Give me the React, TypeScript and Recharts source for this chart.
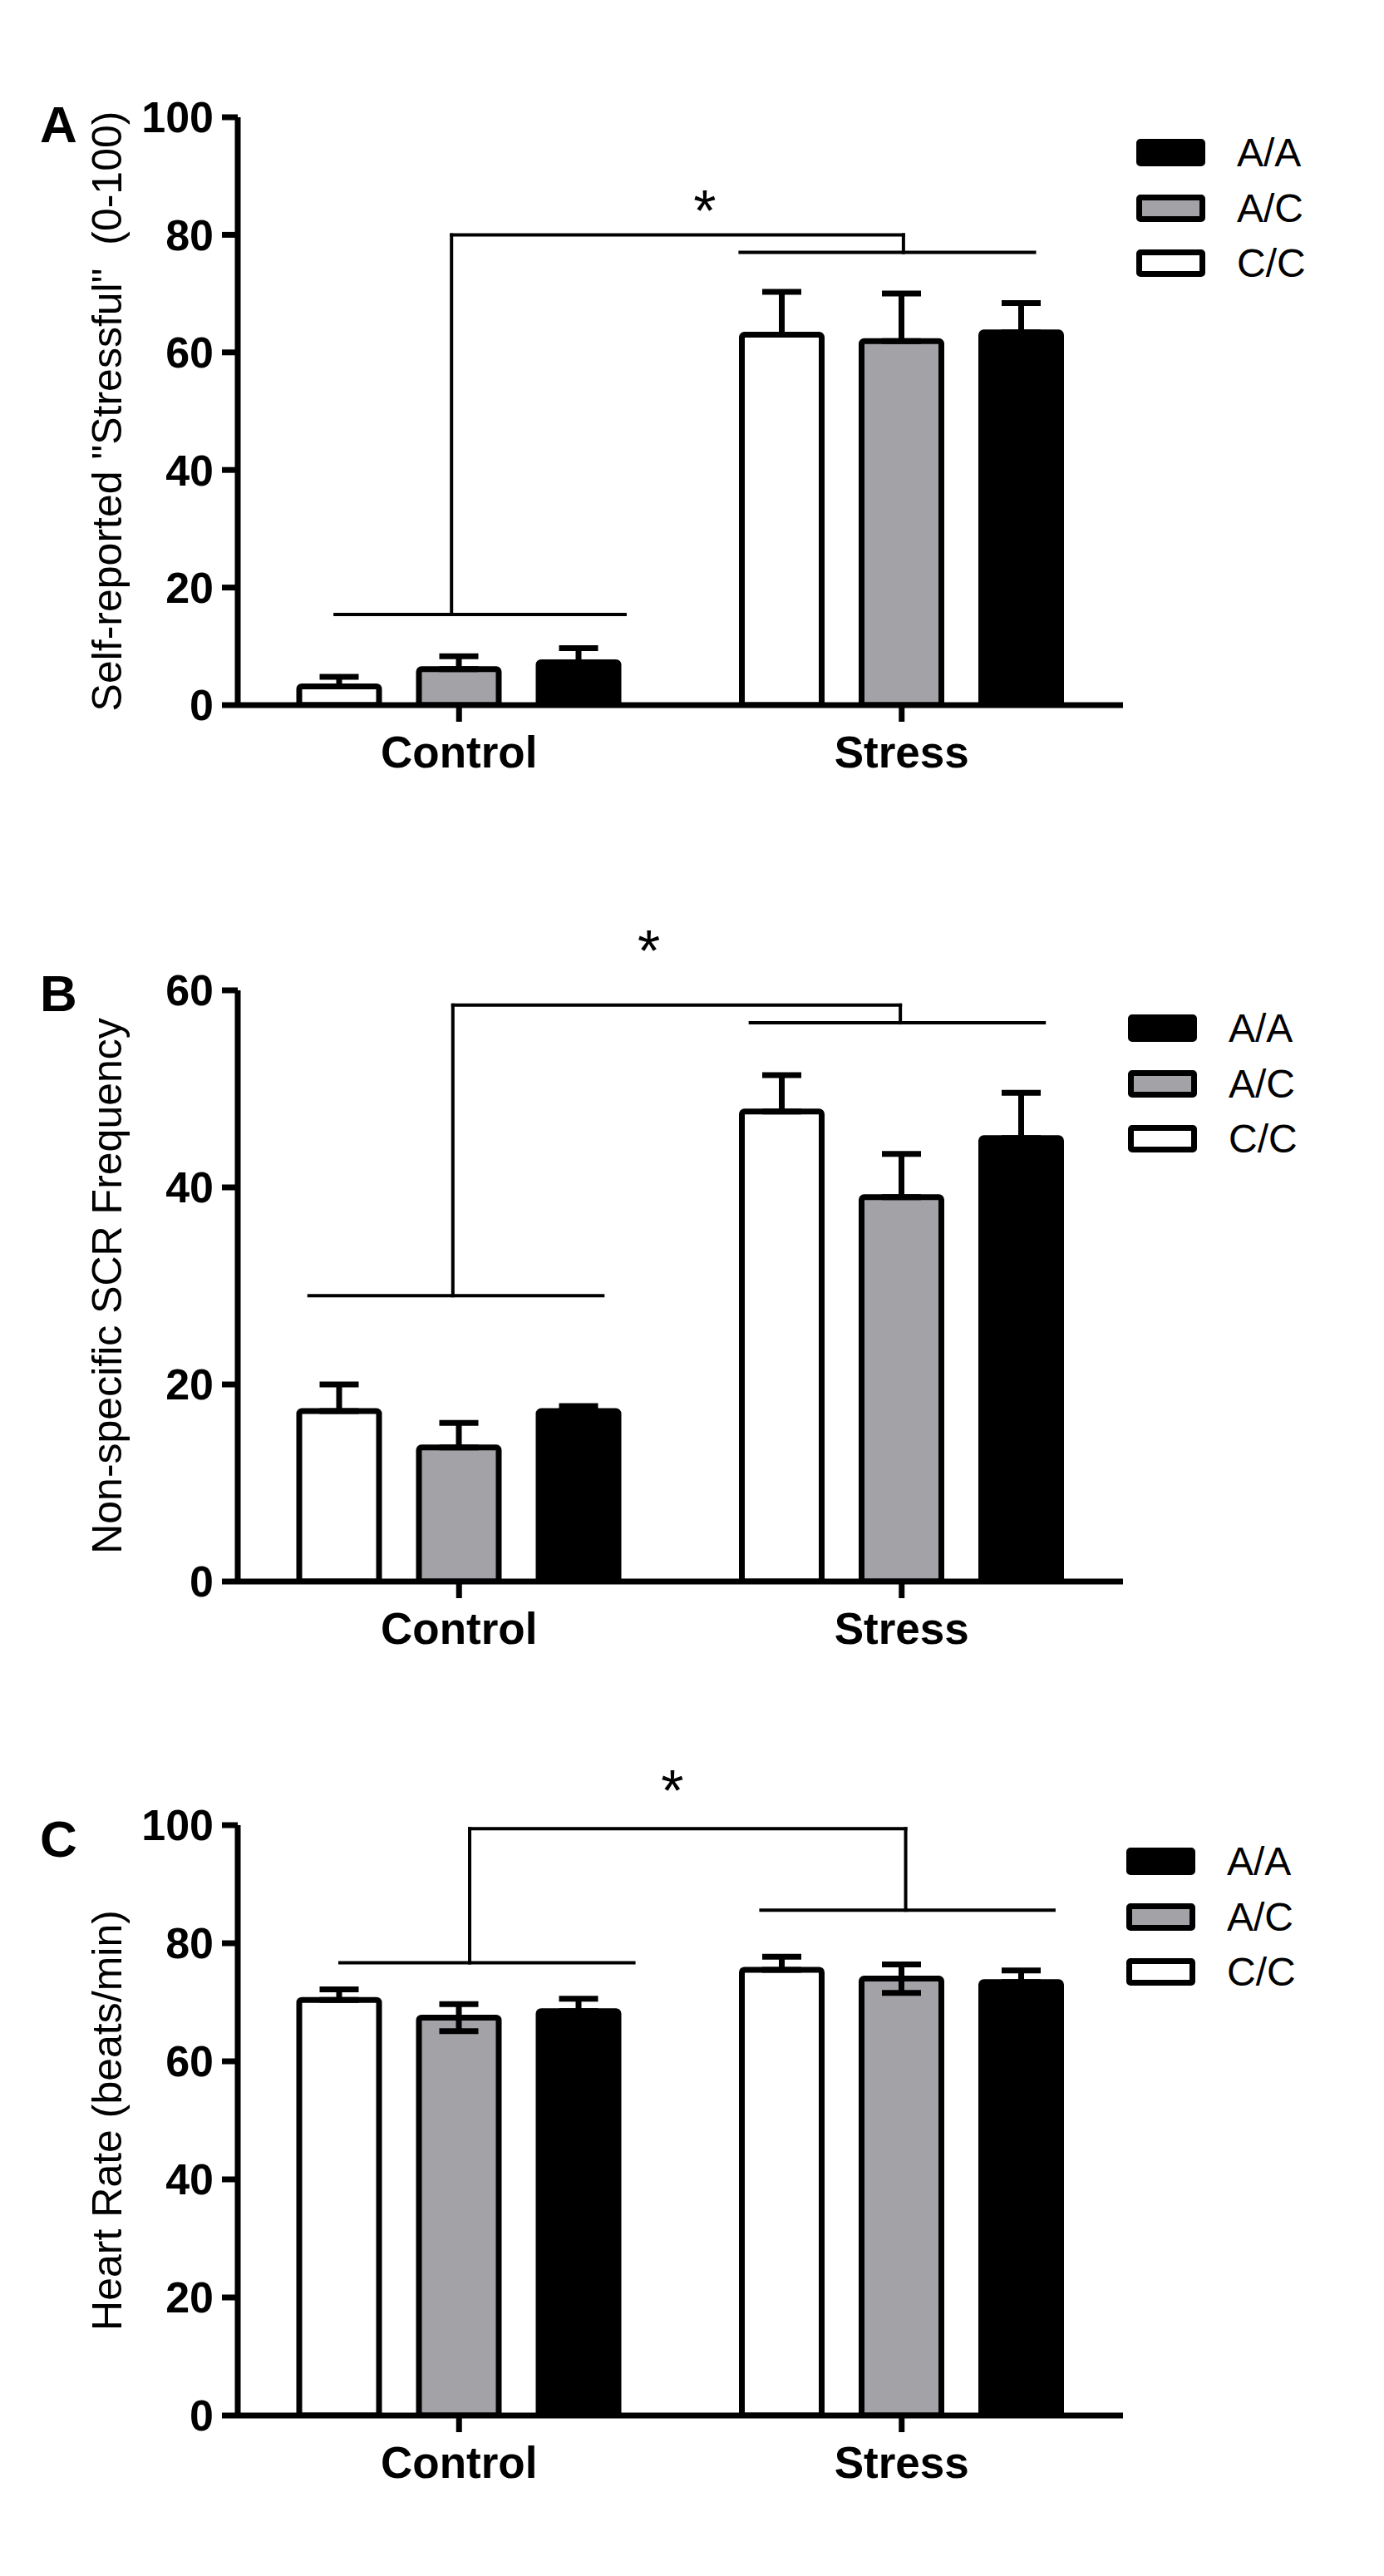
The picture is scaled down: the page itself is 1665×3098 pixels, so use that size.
import React from "react";
import {
  BarChart,
  Bar,
  XAxis,
  YAxis,
  ErrorBar,
  ReferenceLine,
  ReferenceDot,
  Legend,
} from "recharts";

const categories = ["Control", "Stress"];
const genotypes = ["C/C", "A/C", "A/A"];

// A: self-reported "stressful" rating (0-100)
const stressfulCC = [3.2, 63.0];
const stressfulAC = [6.1, 61.9];
const stressfulAA = [7.3, 63.4];
const stressfulCCUp = [1.6, 7.3];
const stressfulACUp = [2.2, 8.1];
const stressfulAAUp = [2.4, 5.0];

// B: non-specific SCR frequency
const scrCC = [17.3, 47.7];
const scrAC = [13.6, 39.0];
const scrAA = [17.3, 45.0];
const scrCCUp = [2.7, 3.7];
const scrACUp = [2.5, 4.4];
const scrAAUp = [0.5, 4.6];

// C: heart rate (beats/min)
const hrCC = [70.4, 75.5];
const hrAC = [67.4, 74.0];
const hrAA = [68.5, 73.4];
const hrCCUp = [1.8, 2.2];
const hrACUp = [2.3, 2.4];
const hrAAUp = [2.1, 2.0];
const hrACDown = [2.3, 2.4];

const noDown = [0, 0];

// significance brackets as [x1, y1, x2, y2]; x runs 0..1 across the plot
// (Control group centred at 0.25, Stress at 0.75)
const stressfulBrackets = [
  [0.11, 15.4, 0.4375, 15.4],
  [0.2415, 15.4, 0.2415, 80],
  [0.2415, 80, 0.752, 80],
  [0.752, 80, 0.752, 77],
  [0.5675, 77, 0.9, 77],
];
const stressfulStar = [0.5275, 86.3];

const scrBrackets = [
  [0.0805, 29.0, 0.4125, 29.0],
  [0.243, 29.0, 0.243, 58.5],
  [0.243, 58.5, 0.7485, 58.5],
  [0.7485, 58.5, 0.7485, 56.7],
  [0.579, 56.7, 0.911, 56.7],
];
const scrStar = [0.4645, 65.3];

const hrBrackets = [
  [0.1155, 76.7, 0.4475, 76.7],
  [0.262, 76.7, 0.262, 99.4],
  [0.262, 99.4, 0.7545, 99.4],
  [0.7545, 99.4, 0.7545, 85.6],
  [0.591, 85.6, 0.922, 85.6],
];
const hrStar = [0.491, 108];

const FONT = "'Liberation Sans', Arial, Helvetica, sans-serif";
const GREY = "#a3a2a7";
const fills: Record<string, string> = { "C/C": "#ffffff", "A/C": GREY, "A/A": "#000000" };
const axisStroke = { stroke: "#000", strokeWidth: 7 };

type Panel = {
  letter: string;
  yLabel: string;
  yMax: number;
  yTicks: number[];
  cc: number[];
  ac: number[];
  aa: number[];
  ccUp: number[];
  acUp: number[];
  aaUp: number[];
  ccDown: number[];
  acDown: number[];
  aaDown: number[];
  brackets: number[][];
  star: number[];
  top: number;
  marginTop: number;
  marginBottom: number;
  legendLeft: number;
  legendTop: number;
  letterTop: number;
};

const panels: Panel[] = [
  {
    letter: "A",
    yLabel: 'Self-reported "Stressful"\u00a0\u00a0(0-100)',
    yMax: 100,
    yTicks: [0, 20, 40, 60, 80, 100],
    cc: stressfulCC,
    ac: stressfulAC,
    aa: stressfulAA,
    ccUp: stressfulCCUp,
    acUp: stressfulACUp,
    aaUp: stressfulAAUp,
    ccDown: noDown,
    acDown: noDown,
    aaDown: noDown,
    brackets: stressfulBrackets,
    star: stressfulStar,
    top: 0,
    marginTop: 141,
    marginBottom: 42,
    legendLeft: 1367,
    legendTop: 167,
    letterTop: 119,
  },
  {
    letter: "B",
    yLabel: "Non-specific SCR Frequency",
    yMax: 60,
    yTicks: [0, 20, 40, 60],
    cc: scrCC,
    ac: scrAC,
    aa: scrAA,
    ccUp: scrCCUp,
    acUp: scrACUp,
    aaUp: scrAAUp,
    ccDown: noDown,
    acDown: noDown,
    aaDown: noDown,
    brackets: scrBrackets,
    star: scrStar,
    top: 1030,
    marginTop: 161,
    marginBottom: 18,
    legendLeft: 1357,
    legendTop: 190,
    letterTop: 1164,
  },
  {
    letter: "C",
    yLabel: "Heart Rate (beats/min)",
    yMax: 100,
    yTicks: [0, 20, 40, 60, 80, 100],
    cc: hrCC,
    ac: hrAC,
    aa: hrAA,
    ccUp: hrCCUp,
    acUp: hrACUp,
    aaUp: hrAAUp,
    ccDown: noDown,
    acDown: hrACDown,
    aaDown: noDown,
    brackets: hrBrackets,
    star: hrStar,
    top: 2098,
    marginTop: 97,
    marginBottom: 83,
    legendLeft: 1355,
    legendTop: 124,
    letterTop: 2181,
  },
];

function LegendBox() {
  // legend is listed top-down as A/A, A/C, C/C
  const items = [...genotypes].reverse();
  return (
    <div style={{ display: "flex", flexDirection: "column", gap: 33.5 }}>
      {items.map((name) => (
        <div key={name} style={{ display: "flex", alignItems: "center", height: 33 }}>
          <div
            style={{
              width: 83,
              height: 33,
              boxSizing: "border-box",
              border: "7px solid #000",
              borderRadius: 5,
              background: fills[name],
            }}
          />
          <span
            style={{
              marginLeft: 38,
              fontFamily: FONT,
              fontSize: 48,
              lineHeight: "33px",
              color: "#000",
            }}
          >
            {name}
          </span>
        </div>
      ))}
    </div>
  );
}

function PanelChart({ p }: { p: Panel }) {
  const rows = categories.map((group, i) => ({
    group,
    cc: p.cc[i],
    ac: p.ac[i],
    aa: p.aa[i],
    ccErr: [p.ccDown[i], p.ccUp[i]],
    acErr: [p.acDown[i], p.acUp[i]],
    aaErr: [p.aaDown[i], p.aaUp[i]],
  }));
  const series = [
    { key: "cc", name: "C/C" },
    { key: "ac", name: "A/C" },
    { key: "aa", name: "A/A" },
  ];
  return (
    <div style={{ position: "absolute", left: 0, top: p.top }}>
      <BarChart
        width={1665}
        height={1000}
        data={rows}
        margin={{ top: p.marginTop, right: 314, bottom: p.marginBottom, left: 0 }}
        barCategoryGap={74}
        barGap={48}
      >
        <XAxis
          dataKey="group"
          height={110}
          axisLine={axisStroke}
          tickLine={axisStroke}
          tickSize={20}
          tickMargin={17}
          tick={{ fill: "#000", fontSize: 53, fontWeight: "bold", fontFamily: FONT }}
        />
        <XAxis xAxisId="pos" type="number" domain={[0, 1]} allowDataOverflow hide />
        <YAxis
          width={286}
          domain={[0, p.yMax]}
          ticks={p.yTicks}
          interval={0}
          allowDataOverflow
          axisLine={axisStroke}
          tickLine={axisStroke}
          tickSize={19}
          tickMargin={10}
          tick={{ fill: "#000", fontSize: 52, fontWeight: "bold", fontFamily: FONT }}
          label={{
            value: p.yLabel,
            angle: -90,
            position: "insideLeft",
            offset: 128,
            style: { textAnchor: "middle", fontSize: 50, fill: "#000", fontFamily: FONT },
          }}
        />
        <Legend
          layout="vertical"
          align="center"
          verticalAlign="middle"
          wrapperStyle={{ left: p.legendLeft, top: p.legendTop, width: 260 }}
          content={() => <LegendBox />}
        />
        {series.map((s) => (
          <Bar
            key={s.key}
            dataKey={s.key}
            name={s.name}
            fill={fills[s.name]}
            stroke="#000"
            strokeWidth={7}
            radius={[3, 3, 0, 0]}
            isAnimationActive={false}
          >
            <ErrorBar
              dataKey={`${s.key}Err`}
              direction="y"
              width={23.5}
              stroke="#000"
              strokeWidth={7}
              isAnimationActive={false}
            />
          </Bar>
        ))}
        {p.brackets.map((b, i) => (
          <ReferenceLine
            key={i}
            xAxisId="pos"
            segment={[
              { x: b[0], y: b[1] },
              { x: b[2], y: b[3] },
            ]}
            stroke="#000"
            strokeWidth={4}
            strokeLinecap="square"
            ifOverflow="visible"
          />
        ))}
        <ReferenceDot
          xAxisId="pos"
          x={p.star[0]}
          y={p.star[1]}
          r={0}
          ifOverflow="visible"
          shape={(props: any) => (
            <text
              x={props.cx}
              y={props.cy + 0.575 * 70}
              textAnchor="middle"
              fontSize={70}
              fontFamily={FONT}
              fill="#000"
            >
              *
            </text>
          )}
        />
      </BarChart>
    </div>
  );
}

export default function App() {
  return (
    <div
      style={{
        position: "absolute",
        left: 0,
        top: 0,
        width: 1665,
        height: 3098,
        background: "#fff",
        overflow: "hidden",
      }}
    >
      {panels.map((p) => (
        <React.Fragment key={p.letter}>
          <PanelChart p={p} />
          <div
            style={{
              position: "absolute",
              left: 48,
              top: p.letterTop,
              fontFamily: FONT,
              fontWeight: "bold",
              fontSize: 62,
              lineHeight: 1,
              color: "#000",
            }}
          >
            {p.letter}
          </div>
        </React.Fragment>
      ))}
    </div>
  );
}
